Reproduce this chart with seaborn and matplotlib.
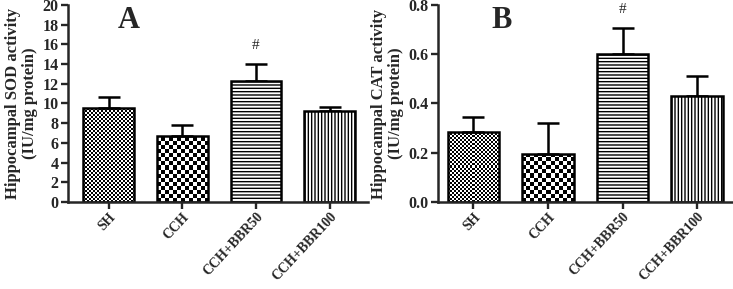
import matplotlib
matplotlib.use("Agg")
import matplotlib.pyplot as plt
import seaborn as sns
import numpy as np
import pandas as pd

groups = ["SH", "CCH", "CCH+BBR50", "CCH+BBR100"]
sod_mean = [9.5, 6.7, 12.3, 9.2]
sod_err = [1.2, 1.1, 1.7, 0.4]
cat_mean = [0.285, 0.195, 0.600, 0.430]
cat_err = [0.060, 0.125, 0.105, 0.080]
sig_marks = ["", "", "#", ""]

sns.set_style("ticks")
plt.rcParams["font.family"] = ["Liberation Serif", "DejaVu Serif"]
plt.rcParams["font.weight"] = "bold"
plt.rcParams["hatch.linewidth"] = 1.0

fig = plt.figure(figsize=(7.33, 2.89), dpi=100)
axA = fig.add_axes([0.093, 0.301, 0.409, 0.682])
axB = fig.add_axes([0.598, 0.301, 0.402, 0.682])


def checker_fill(ax, patch, cell_px):
    # pixel-resolution checkerboard clipped to the bar
    bb = patch.get_window_extent(renderer=fig.canvas.get_renderer())
    ncol = max(2, int(round(bb.width)))
    nrow = max(2, int(round(bb.height)))
    ii, jj = np.indices((nrow, ncol))
    board = ((ii // cell_px + jj // cell_px) % 2).astype(float)
    x0 = patch.get_x()
    im = ax.imshow(board, cmap="gray", interpolation="nearest", aspect="auto",
                   extent=(x0, x0 + patch.get_width(), 0, patch.get_height()),
                   zorder=1, origin="lower")
    im.set_clip_path(patch)


def panel(ax, means, errs, ylim, xlim, yticks, fmt, ylabel, letter, letter_x, sig_y):
    df = pd.DataFrame({"group": groups, "value": means})
    sns.barplot(data=df, x="group", y="value", color="white", width=0.69,
                edgecolor="black", linewidth=1.8, ax=ax, errorbar=None)
    ax.set_ylim(*ylim)
    ax.set_xlim(*xlim)
    patches = list(ax.patches)
    hatches = [None, None, "-----", "|||||"]
    for p, h in zip(patches, hatches):
        p.set_zorder(2)
        if h is None:
            p.set_facecolor("none")
        else:
            p.set_hatch(h)
    fig.canvas.draw()
    checker_fill(ax, patches[0], 2)
    checker_fill(ax, patches[1], 4)
    xs = [p.get_x() + p.get_width() / 2 for p in patches]
    ax.errorbar(xs, means, yerr=[np.zeros(len(errs)), errs], fmt="none",
                ecolor="black", elinewidth=1.8, capsize=8, capthick=1.8, zorder=1.5)
    for x, s in zip(xs, sig_marks):
        if s:
            ax.text(x, sig_y, s, ha="center", va="bottom", fontsize=11,
                    fontweight="normal")
    ax.set_xlim(*xlim)
    ax.set_ylim(*ylim)
    ax.set_yticks(yticks)
    ax.set_yticklabels([fmt.format(t) for t in yticks], fontsize=11.5, fontweight="bold")
    ax.set_xticks(range(len(groups)))
    ax.set_xticklabels(groups, rotation=47, ha="right", rotation_mode="anchor",
                       fontsize=10, fontweight="bold")
    ax.set_xlabel("")
    ax.set_ylabel(ylabel, fontsize=12, fontweight="bold", labelpad=3, linespacing=1.1)
    ax.tick_params(axis="both", direction="out", length=5, width=1.7, pad=2)
    ax.tick_params(axis="x", pad=1)
    for sp in ["left", "bottom"]:
        ax.spines[sp].set_linewidth(1.8)
    sns.despine(ax=ax)
    ax.text(letter_x, 0.92, letter, transform=ax.transAxes, fontsize=22,
            fontweight="bold", ha="left", va="center")


panel(axA, sod_mean, sod_err, (0, 20), (-0.55, 3.52), list(range(0, 21, 2)), "{:d}",
      "Hippocampal SOD activity\n(IU/mg protein)", "A", 0.165, 15.2)
panel(axB, cat_mean, cat_err, (0, 0.8), (-0.47, 3.48), [0.0, 0.2, 0.4, 0.6, 0.8], "{:.1f}",
      "Hippocampal CAT activity\n(IU/mg protein)", "B", 0.18, 0.755)

fig.savefig("out.png", dpi=100)
